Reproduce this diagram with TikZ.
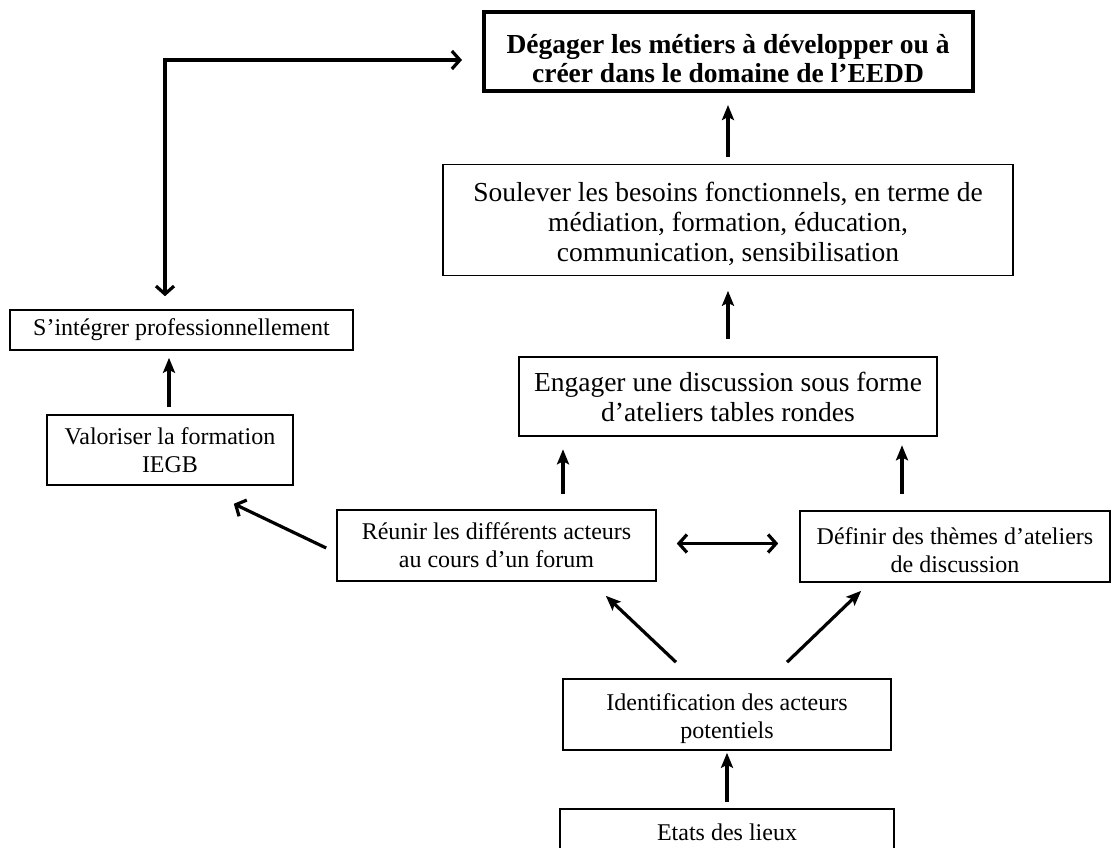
\documentclass[tikz,border=0pt]{standalone}
\usepackage{fontspec}
\setmainfont{Liberation Serif}
\usetikzlibrary{arrows.meta,calc}
\begin{document}
\begin{tikzpicture}[x=1pt,y=-1pt,
  box/.style={draw, line width=1.6pt, inner sep=0pt, align=center, font=\fontsize{24}{28}\selectfont},
  bigbox/.style={box, font=\fontsize{27.5}{30}\selectfont},
  topbox/.style={draw, line width=4pt, inner sep=0pt, align=center, font=\bfseries\fontsize{27.5}{29}\selectfont},
  arr/.style={line width=3.2pt, -{Stealth[length=15pt,width=12pt,inset=3pt]}},
  barb/.style={line width=3.2pt, -{Straight Barb[length=8pt,width=18pt,line width=3.2pt]}},
  dbarb/.style={line width=3.2pt, {Straight Barb[length=8pt,width=18pt,line width=3.2pt]}-{Straight Barb[length=8pt,width=18pt,line width=3.2pt]}},
]
\useasboundingbox (0,0) rectangle (1112,848);

\node[topbox, minimum width=489pt, minimum height=79pt] (top) at (728,51.5)
  {\rule{0pt}{33pt}Dégager les métiers à développer ou à\\créer dans le domaine de l’EEDD};
\node[bigbox, minimum width=570pt, minimum height=111pt] (soul) at (728,220)
  {\rule{0pt}{27pt}Soulever les besoins fonctionnels, en terme de\\médiation, formation, éducation,\\communication, sensibilisation};
\node[bigbox, minimum width=418pt, minimum height=79pt] (eng) at (728,396.5)
  {Engager une discussion sous forme\\d’ateliers tables rondes};
\node[box, minimum width=319pt, minimum height=71pt] (reunir) at (496.5,545.5)
  {Réunir les différents acteurs\\au cours d’un forum};
\node[box, minimum width=310pt, minimum height=71pt] (definir) at (955,546.5)
  {\rule{0pt}{24pt}Définir des thèmes d’ateliers\\de discussion};
\node[box, minimum width=246pt, minimum height=70pt] (valor) at (170,450)
  {Valoriser la formation\\IEGB};
\node[box, minimum width=343pt, minimum height=40pt] (integ) at (181.5,330)
  {S’intégrer professionnellement};
\node[box, minimum width=328pt, minimum height=71pt] (ident) at (727,714.5)
  {\rule{0pt}{25pt}Identification des acteurs\\potentiels};
\node[box, minimum width=334pt, minimum height=46pt] (etats) at (727,832)
  {Etats des lieux};

% connectors
\draw[arr, shorten <=6.5pt, shorten >=12pt] (soul.north) -- (top.south);
\draw[arr, shorten <=17pt, shorten >=14.5pt] (eng.north) -- (soul.south);
\draw[arr, shorten <=15pt, shorten >=12.5pt] ([xshift=66.5pt]reunir.north) -- ([xshift=66.5pt]reunir.north |- eng.south);
\draw[arr, shorten <=16pt, shorten >=8.5pt] ([xshift=-53pt]definir.north) -- ([xshift=-53pt]definir.north |- eng.south);
\draw[dbarb, shorten <=20pt, shorten >=21pt] ([yshift=2pt]reunir.east) -- ([yshift=3pt]definir.west);
\draw[barb] ($(reunir.west)+(-10,2.5)$) -- ($(valor.south east)+(-60,18)$);
\draw[arr, shorten <=7pt, shorten >=7pt] ([xshift=-1pt]valor.north) -- ([xshift=-1pt]valor.north |- integ.south);
\draw[dbarb] ($(integ.north)+(-16.5,-13)$) |- ($(top.west)+(-19.5,8.5)$);
\draw[arr] ($(ident.north)+(-51,-16)$) -- ($(reunir.south east)+(-51,14)$);
\draw[arr] ($(ident.north)+(60,-16)$) -- ($(definir.south west)+(62,8)$);
\draw[arr, shorten <=6pt, shorten >=2pt] (etats.north) -- (ident.south);
\end{tikzpicture}
\end{document}
